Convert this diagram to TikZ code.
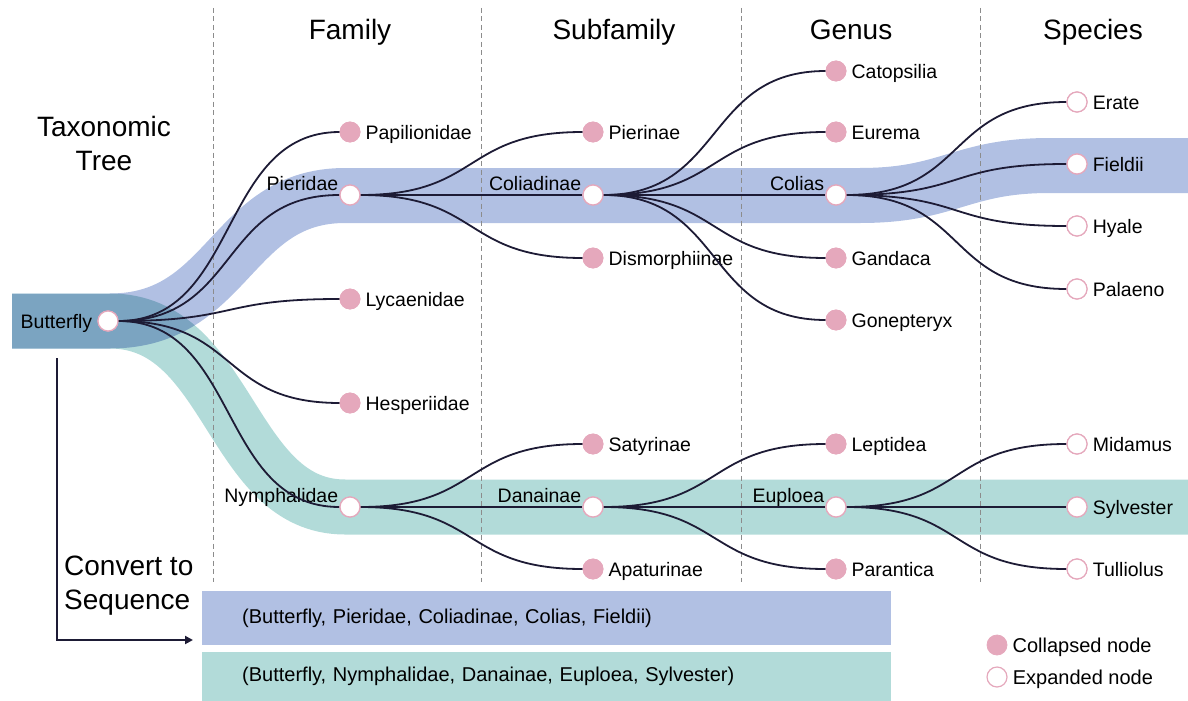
\documentclass[tikz,border=0pt]{standalone}
\usepackage{fontspec}
\setmainfont{Liberation Sans}
\usetikzlibrary{arrows.meta}
\definecolor{bandblue}{HTML}{B1C0E3}
\definecolor{bandteal}{HTML}{B2DBD9}
\definecolor{pinkc}{HTML}{E5A8BC}
\definecolor{edgec}{HTML}{1D1B35}
\definecolor{dashgray}{HTML}{8C8C8C}
\newcommand\lblfont{\fontsize{19.5}{23}\selectfont}
\newcommand\seqfont{\fontsize{20}{23}\selectfont}
\newcommand\hdrfont{\fontsize{28}{34}\selectfont}
\begin{document}
\begin{tikzpicture}[x=1pt,y=-1pt,
  label distance=5pt,
  collapsed/.style={circle, fill=pinkc, draw=pinkc, line width=0.8pt, minimum size=20pt, inner sep=0pt},
  expanded/.style={circle, fill=white, draw=pinkc, line width=1.2pt, minimum size=20pt, inner sep=0pt},
  leaflbl/.style={inner sep=0pt, text height=14pt, text depth=4pt, yshift=-2pt, font=\lblfont},
  innerlbl/.style={inner sep=0pt, text height=14pt, text depth=4pt, yshift=10pt, xshift=4pt, font=\lblfont},
  leaf/.style={label={[leaflbl]0:#1}},
  legendlbl/.style={label={[leaflbl, font=\seqfont]0:#1}},
  inner/.style={label={[innerlbl]180:#1}},
  edge/.style={draw=edgec, line width=1.8pt},
  dashline/.style={draw=dashgray, line width=1pt, dash pattern=on 5pt off 3.5pt},
  header/.style={font=\hdrfont, inner sep=0pt, text height=20pt, text depth=6pt},
  titletext/.style={font=\hdrfont, inner sep=0pt},
  band/.style={line width=55pt},
  seqbox/.style={anchor=north west, minimum height=54pt, inner xsep=40pt, inner ysep=0pt, text width=609pt, align=left, font=\seqfont},
]
\useasboundingbox (0,0) rectangle (1188,701);

% bands
\draw[band, bandblue] (12,321) -- (110,321) .. controls (230,321) and (230,195.5) .. (345,195.5) -- (860,195.5) .. controls (950,195.5) and (960,165.5) .. (1050,165.5) -- (1188,165.5);
\draw[band, bandteal, blend mode=multiply] (12,321) -- (110,321) .. controls (230,321) and (230,507) .. (345,507) -- (1188,507);

% dashed column separators
\foreach \xx in {213,481,741,980}{\draw[dashline] (\xx,8) -- (\xx,582);}

% headers
\node[header] (hfam) at (350,33) {Family};
\node[header] (hsub) at (614,33) {Subfamily};
\node[header] (hgen) at (851,33) {Genus};
\node[header] (hspe) at (1093,33) {Species};
\node[titletext, align=center] (ttree) at (104,143) {Taxonomic\\Tree};
\node[titletext, align=left, anchor=west] (tconv) at (64,586) {Convert to\\Sequence};

% nodes
\node[expanded, label={[leaflbl]180:Butterfly}] (butterfly) at (108,321) {};

\node[collapsed, leaf=Papilionidae] (papil) at (350,132) {};
\node[expanded, inner=Pieridae] (pieri) at (350,195) {};
\node[collapsed, leaf=Lycaenidae] (lycae) at (350,299) {};
\node[collapsed, leaf=Hesperiidae] (hespe) at (350,403) {};
\node[expanded, inner=Nymphalidae] (nymph) at (350,507) {};

\node[collapsed, leaf=Pierinae] (pierinae) at (593,132) {};
\node[expanded, inner=Coliadinae] (colia) at (593,195) {};
\node[collapsed, leaf=Dismorphiinae] (dismo) at (593,258) {};
\node[collapsed, leaf=Satyrinae] (satyr) at (593,444) {};
\node[expanded, inner=Danainae] (danai) at (593,507) {};
\node[collapsed, leaf=Apaturinae] (apatu) at (593,569) {};

\node[collapsed, leaf=Catopsilia] (catop) at (836,71) {};
\node[collapsed, leaf=Eurema] (eurem) at (836,132) {};
\node[expanded, inner=Colias] (colias) at (836,195) {};
\node[collapsed, leaf=Gandaca] (ganda) at (836,258) {};
\node[collapsed, leaf=Gonepteryx] (gonep) at (836,320) {};
\node[collapsed, leaf=Leptidea] (lepti) at (836,444) {};
\node[expanded, inner=Euploea] (euplo) at (836,507) {};
\node[collapsed, leaf=Parantica] (paran) at (836,569) {};

\node[expanded, leaf=Erate] (erate) at (1077,102) {};
\node[expanded, leaf=Fieldii] (field) at (1077,164) {};
\node[expanded, leaf=Hyale] (hyale) at (1077,226) {};
\node[expanded, leaf=Palaeno] (palae) at (1077,289) {};
\node[expanded, leaf=Midamus] (midam) at (1077,444) {};
\node[expanded, leaf=Sylvester] (sylve) at (1077,507) {};
\node[expanded, leaf=Tulliolus] (tulli) at (1077,569) {};

% edges
\foreach \a/\b in {butterfly/papil, butterfly/pieri, butterfly/lycae, butterfly/hespe, butterfly/nymph,
  pieri/pierinae, pieri/colia, pieri/dismo,
  colia/catop, colia/eurem, colia/colias, colia/ganda, colia/gonep,
  colias/erate, colias/field, colias/hyale, colias/palae,
  nymph/satyr, nymph/danai, nymph/apatu,
  danai/lepti, danai/euplo, danai/paran,
  euplo/midam, euplo/sylve, euplo/tulli}
  {\draw[edge] (\a.east) .. controls +(121,0) and +(-121,0) .. (\b.west);}

% circles on top of edges
\foreach \n in {butterfly,pieri,nymph,colia,danai,colias,euplo,erate,field,hyale,palae,midam,sylve,tulli}
  {\draw[fill=white, draw=pinkc, line width=1.2pt] (\n.center) circle (10pt);}
\foreach \n in {papil,lycae,hespe,pierinae,dismo,satyr,apatu,catop,eurem,ganda,gonep,lepti,paran}
  {\fill[pinkc] (\n.center) circle (10.4pt);}

% convert arrow
\coordinate (arrstart) at (57,358);
\coordinate (arrcorner) at (57,640);
\coordinate (arrend) at (193,640);
\draw[draw=edgec, line width=2pt, -{Triangle[length=8pt,width=8pt]}] (arrstart) -- (arrcorner) -- (arrend);

% sequence boxes
\node[seqbox, fill=bandblue] (seq1) at (202,591) {(Butterfly, Pieridae, Coliadinae, Colias, Fieldii)};
\node[seqbox, fill=bandteal, minimum height=49pt] (seq2) at (202,652) {(Butterfly, Nymphalidae, Danainae, Euploea, Sylvester)};

% legend
\node[collapsed, legendlbl=Collapsed node] (legc) at (997,645) {};
\node[expanded, legendlbl=Expanded node] (lege) at (997,677) {};
\end{tikzpicture}
\end{document}
